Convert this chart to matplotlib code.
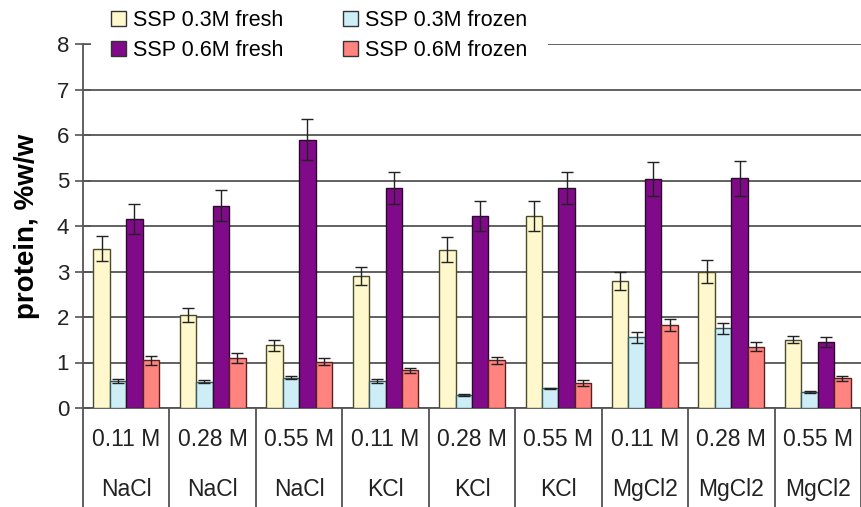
import numpy as np
import matplotlib.pyplot as plt
from matplotlib.lines import Line2D
from matplotlib.patches import Rectangle

plt.rcParams['font.family'] = ['Liberation Sans', 'DejaVu Sans']

# category labels (two rows of the table under the chart)
conc = ['0.11 M', '0.28 M', '0.55 M', '0.11 M', '0.28 M', '0.55 M', '0.11 M', '0.28 M', '0.55 M']
salt = ['NaCl', 'NaCl', 'NaCl', 'KCl', 'KCl', 'KCl', 'MgCl2', 'MgCl2', 'MgCl2']

# protein values, %w/w
fresh_03 = [3.50, 2.05, 1.38, 2.90, 3.48, 4.22, 2.80, 3.00, 1.50]
frozen_03 = [0.60, 0.58, 0.67, 0.60, 0.28, 0.43, 1.55, 1.75, 0.35]
fresh_06 = [4.15, 4.45, 5.90, 4.83, 4.22, 4.83, 5.03, 5.05, 1.45]
frozen_06 = [1.05, 1.10, 1.02, 0.83, 1.05, 0.55, 1.82, 1.35, 0.65]

# error bars
err_fresh_03 = [0.27, 0.15, 0.12, 0.20, 0.27, 0.33, 0.20, 0.25, 0.08]
err_frozen_03 = [0.04, 0.04, 0.04, 0.04, 0.02, 0.02, 0.12, 0.12, 0.02]
err_fresh_06 = [0.33, 0.35, 0.45, 0.35, 0.33, 0.35, 0.37, 0.38, 0.10]
err_frozen_06 = [0.10, 0.10, 0.08, 0.05, 0.08, 0.07, 0.13, 0.10, 0.06]

series = [
    ('SSP 0.3M fresh', fresh_03, err_fresh_03, '#FFF8CC', '#4a4a2a'),
    ('SSP 0.3M frozen', frozen_03, err_frozen_03, '#CDEEF6', '#3a5a60'),
    ('SSP 0.6M fresh', fresh_06, err_fresh_06, '#800A8A', '#2a0a2a'),
    ('SSP 0.6M frozen', frozen_06, err_frozen_06, '#FF8480', '#5a2020'),
]

fig = plt.figure(figsize=(8.61, 5.07), dpi=100)
ax = fig.add_axes([83 / 861, 1 - 408 / 507, 778 / 861, 364 / 507])

x = np.arange(len(conc))
w = 0.19
offsets = [-1.5 * w, -0.5 * w, 0.5 * w, 1.5 * w]

handles = {}
for (label, vals, errs, color, edge), off in zip(series, offsets):
    ax.bar(x + off, vals, w, color=color, edgecolor=edge, linewidth=1.0, zorder=3)
    ax.errorbar(x + off, vals, yerr=errs, fmt='none', ecolor='#222222',
                elinewidth=1.0, capsize=4.5, capthick=1.0, zorder=4)
    handles[label] = Rectangle((0, 0), 1, 1, facecolor=color, edgecolor='#333333', linewidth=1.0)

ax.set_xlim(-0.5, len(conc) - 0.5)
ax.set_ylim(0, 8)
ax.set_yticks(range(0, 9))
ax.yaxis.grid(True, color='#555555', linewidth=1.3, zorder=0)
ax.set_axisbelow(True)
ax.tick_params(axis='y', direction='inout', length=12, width=1.2, color='#555555',
               labelsize=16, pad=4, labelcolor='#222222')
ax.set_xticks([])
for side in ['top', 'right']:
    ax.spines[side].set_visible(False)
ax.spines['left'].set_color('#555555')
ax.spines['left'].set_linewidth(1.3)
ax.spines['bottom'].set_color('#555555')
ax.spines['bottom'].set_linewidth(1.3)

ax.set_ylabel('protein, %w/w', fontsize=20, fontweight='bold', labelpad=12)

# table under the chart
for b in np.arange(-0.5, len(conc) + 0.5, 1.0):
    ax.add_line(Line2D([b, b], [0, -3.5], color='#444444', linewidth=1.2, clip_on=False))
for i in range(len(conc)):
    ax.text(x[i], -0.7, conc[i], ha='center', va='center', fontsize=16.5, color='#222222', clip_on=False)
    ax.text(x[i], -1.8, salt[i], ha='center', va='center', fontsize=16.5, color='#222222', clip_on=False)

# white box behind the legend hides the top gridline
ax.add_patch(Rectangle((0.01, 0.95), 0.588, 0.25, transform=ax.transAxes,
                       facecolor='white', edgecolor='none', zorder=5, clip_on=False))

order = ['SSP 0.3M fresh', 'SSP 0.6M fresh', 'SSP 0.3M frozen', 'SSP 0.6M frozen']
leg = ax.legend([handles[k] for k in order], order, ncol=2, loc='upper left',
                bbox_to_anchor=(0.036, 1.094), fontsize=15.5, frameon=False,
                handlelength=0.7, handleheight=0.7, handletextpad=0.3,
                columnspacing=2.8, labelspacing=0.45, borderaxespad=0,
                borderpad=0)
leg.set_zorder(6)

fig.savefig('out.png', dpi=100)
